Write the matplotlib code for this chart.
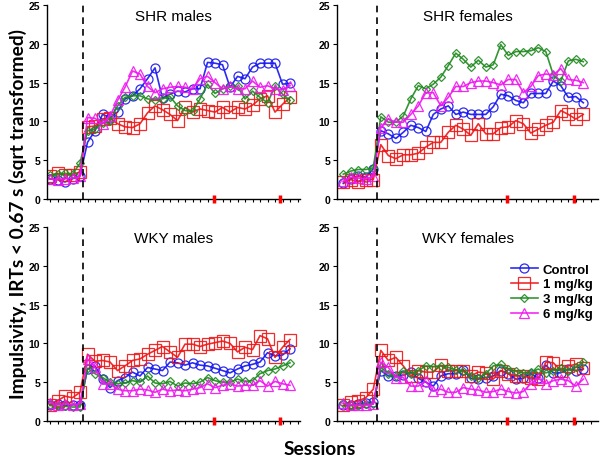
import numpy as np
import matplotlib
matplotlib.use("Agg")
import matplotlib.pyplot as plt

# sessions 1-5 baseline, 6-33 drug
sessions = np.arange(1, 34)
drug_start = 5.45
red_marks = [22.8, 31.7]

groups = ["Control", "1 mg/kg", "3 mg/kg", "6 mg/kg"]
colors = ["#1515f0", "#f01515", "#1e8a1e", "#f015f0"]
markers = ["o", "s", "D", "^"]
msizes = [6.5, 8, 4.5, 6.5]

# SHR males
shr_m_ctrl = [2.6, 2.5, 2.2, 2.6, 3.0,
              7.3, 8.8, 10.9, 10.5, 11.2, 12.9, 13.3, 14.2, 15.5, 16.9, 13.0, 13.5, 13.9, 13.8,
              14.2, 14.2, 17.6, 17.5, 17.3, 14.4, 15.8, 15.5, 17.0, 17.5, 17.5, 17.5, 14.8, 14.9]
shr_m_1 = [3.0, 3.3, 3.1, 3.1, 3.5,
           9.3, 9.4, 10.3, 10.4, 9.7, 9.3, 9.2, 9.7, 11.1, 12.0, 11.5, 10.9, 10.1, 11.8,
           11.2, 11.6, 11.4, 11.2, 11.8, 11.2, 11.8, 11.6, 12.1, 12.9, 13.3, 11.2, 12.2, 13.1]
shr_m_3 = [3.1, 3.2, 3.3, 3.2, 4.6,
           8.8, 9.0, 9.8, 10.0, 12.0, 13.1, 13.3, 13.3, 12.9, 12.8, 12.9, 13.2, 12.0, 11.4,
           11.3, 12.9, 14.8, 13.6, 14.2, 14.5, 14.5, 12.9, 13.9, 13.1, 12.4, 14.5, 13.5, 12.7]
shr_m_6 = [2.6, 2.5, 2.6, 2.7, 2.9,
           10.5, 10.4, 9.7, 10.7, 12.7, 14.4, 16.5, 16.1, 14.5, 13.7, 14.2, 14.4, 14.5, 14.4,
           14.2, 15.5, 15.8, 15.0, 14.2, 14.5, 14.2, 14.2, 15.2, 14.4, 14.6, 14.2, 14.1, 14.6]

# SHR females
shr_f_ctrl = [2.0, 2.6, 3.0, 2.8, 3.9,
              8.8, 8.4, 7.8, 8.6, 9.5, 9.2, 8.7, 10.9, 11.6, 12.0, 10.9, 11.2, 10.9, 10.9,
              10.9, 11.9, 13.5, 13.3, 12.7, 12.4, 13.6, 13.6, 13.6, 15.2, 14.6, 13.1, 13.2, 12.4]
shr_f_1 = [2.2, 2.5, 2.2, 2.5, 2.5,
           7.0, 5.6, 5.2, 5.7, 5.7, 5.9, 6.7, 7.3, 7.3, 8.6, 9.5, 9.0, 8.2, 9.7,
           8.4, 8.4, 9.2, 9.3, 10.1, 9.7, 8.5, 9.0, 9.5, 9.9, 11.4, 10.9, 10.3, 10.9]
shr_f_3 = [3.2, 3.6, 3.8, 3.8, 4.0,
           10.6, 9.9, 9.9, 10.7, 12.9, 14.6, 14.2, 14.8, 15.7, 17.2, 18.8, 18.0, 17.0, 17.9,
           17.0, 17.3, 19.9, 18.5, 19.0, 19.0, 19.1, 19.5, 19.0, 16.0, 15.2, 17.8, 18.0, 17.7]
shr_f_6 = [2.3, 2.8, 2.7, 2.6, 2.9,
           9.2, 10.3, 9.9, 9.9, 10.9, 12.0, 13.7, 13.7, 12.0, 13.1, 14.5, 14.5, 15.0, 15.2,
           15.2, 15.0, 14.7, 15.4, 15.4, 13.7, 14.5, 15.9, 16.1, 16.0, 16.8, 15.4, 15.3, 15.0]

# WKY males
wky_m_ctrl = [2.1, 2.2, 2.0, 2.1, 2.1,
              6.7, 7.1, 5.4, 4.3, 5.2, 5.6, 6.3, 5.8, 6.9, 6.7, 6.5, 7.6, 7.5, 7.2,
              7.5, 7.2, 7.1, 6.8, 6.5, 6.2, 6.7, 7.1, 7.3, 7.6, 8.8, 8.4, 8.5, 9.3]
wky_m_1 = [2.1, 2.6, 3.2, 3.0, 3.7,
           8.6, 7.7, 7.8, 7.6, 6.5, 7.1, 7.8, 8.0, 8.6, 9.1, 9.6, 8.9, 8.2, 9.9,
           9.9, 9.6, 9.9, 10.1, 10.3, 10.0, 8.9, 9.5, 9.2, 11.0, 10.6, 8.2, 9.5, 10.5]
wky_m_3 = [2.0, 1.9, 1.9, 1.8, 1.8,
           6.8, 6.1, 5.6, 5.0, 4.8, 4.9, 5.2, 5.0, 5.8, 4.9, 4.8, 5.1, 4.5, 4.9,
           4.8, 5.0, 5.6, 5.2, 5.0, 5.0, 5.4, 5.1, 5.2, 6.1, 6.5, 6.7, 7.1, 7.5]
wky_m_6 = [2.3, 2.1, 2.2, 2.1, 2.2,
           8.0, 6.9, 4.8, 4.8, 4.1, 3.9, 3.9, 4.1, 4.0, 3.7, 4.1, 3.9, 4.0, 3.9,
           4.1, 4.3, 4.8, 4.3, 4.6, 4.8, 4.5, 4.6, 4.6, 5.2, 4.5, 5.1, 4.8, 4.6]

# WKY females
wky_f_ctrl = [2.0, 2.0, 2.2, 2.3, 2.4,
              6.5, 5.8, 5.8, 5.9, 6.3, 5.5, 5.0, 4.5, 5.8, 6.1, 6.1, 6.6, 5.5, 5.4,
              5.6, 5.8, 6.5, 6.1, 5.4, 5.5, 6.1, 5.5, 7.2, 6.2, 6.2, 6.7, 6.5, 6.7]
wky_f_1 = [2.0, 2.4, 2.6, 3.0, 4.1,
           9.1, 7.8, 8.2, 7.1, 5.8, 6.5, 6.3, 6.3, 7.2, 6.5, 6.5, 6.5, 5.8, 6.3,
           6.2, 5.4, 6.5, 6.1, 5.8, 5.8, 5.6, 5.4, 7.6, 7.5, 6.5, 7.1, 7.3, 6.8]
wky_f_3 = [2.3, 2.0, 2.0, 2.2, 2.2,
           6.9, 6.1, 5.8, 6.4, 6.1, 6.5, 7.1, 7.0, 7.1, 6.9, 6.6, 6.4, 5.8, 5.5,
           6.1, 7.1, 7.3, 6.7, 6.4, 6.2, 6.3, 6.7, 6.2, 6.5, 6.8, 6.5, 6.9, 7.6]
wky_f_6 = [2.3, 2.1, 2.0, 2.0, 2.2,
           7.6, 6.9, 5.6, 5.6, 4.5, 4.5, 5.1, 3.9, 4.1, 3.7, 3.7, 4.3, 4.1, 4.0,
           3.7, 3.8, 4.1, 3.8, 3.6, 3.8, 4.8, 5.5, 4.8, 5.2, 5.4, 5.2, 4.5, 5.4]

panels = [
    ("SHR males", [shr_m_ctrl, shr_m_1, shr_m_3, shr_m_6]),
    ("SHR females", [shr_f_ctrl, shr_f_1, shr_f_3, shr_f_6]),
    ("WKY males", [wky_m_ctrl, wky_m_1, wky_m_3, wky_m_6]),
    ("WKY females", [wky_f_ctrl, wky_f_1, wky_f_3, wky_f_6]),
]

W, H = 600, 460
fig = plt.figure(figsize=(6, 4.6), dpi=100)

# pixel boxes: (left, right, top, bottom)
boxes = [(47, 300, 6, 200), (337, 598, 6, 200), (47, 300, 228, 422), (337, 598, 228, 422)]
xlims = [(0.6, 34.33), (0.16, 34.96), (0.6, 34.33), (0.16, 34.96)]

tickfont = dict(family="Liberation Sans", weight="bold", size=7.5)

for i, (title, series) in enumerate(panels):
    l, r, t, b = boxes[i]
    ax = fig.add_axes([l / W, 1 - b / H, (r - l) / W, (b - t) / H])
    for vals, c, m, ms, g in zip(series, colors, markers, msizes, groups):
        ax.plot(sessions, vals, color=c, lw=1.2, marker=m, ms=ms,
                mfc="none", mec=c, mew=0.9, alpha=0.9, label=g)
    ax.axvline(drug_start, color="black", lw=1.2, ls=(0, (4, 3)))
    ax.set_xlim(*xlims[i])
    ax.set_ylim(0, 25)
    ax.set_yticks([0, 5, 10, 15, 20, 25])
    ax.set_xticks(np.arange(1, 35))
    ax.set_xticklabels([])
    for lab in ax.get_yticklabels():
        lab.set_fontfamily(tickfont["family"])
        lab.set_fontweight(tickfont["weight"])
        lab.set_fontsize(tickfont["size"])
    ax.tick_params(axis="x", length=2.5, width=0.8, direction="out")
    ax.tick_params(axis="y", length=3, width=0.8, direction="out", pad=2)
    for s in ["top", "right"]:
        ax.spines[s].set_visible(False)
    ax.spines["left"].set_linewidth(1.0)
    ax.spines["bottom"].set_linewidth(1.0)
    ax.plot(red_marks, [0] * len(red_marks), ls="none", marker="|", ms=6,
            mew=2.5, color="red", clip_on=False, zorder=5)
    ax.text(0.5, 0.945, title, transform=ax.transAxes, ha="center", va="center",
            fontsize=11, family="Liberation Sans")
    if i == 3:
        ax.legend(loc="upper right", bbox_to_anchor=(1.0, 0.84), frameon=False,
                  prop=dict(family="Liberation Sans", weight="bold", size=9.5),
                  handlelength=2.0, handletextpad=0.4, labelspacing=0.2,
                  borderaxespad=0.0)

fig.text(18 / W, 1 - 214 / H, "Impulsivity, IRTs < 0.67 s (sqrt transformed)",
         rotation=90, ha="center", va="center", fontsize=13.8, weight="bold",
         family="Lato")
fig.text(320 / W, 1 - 450 / H, "Sessions", ha="center", va="center",
         fontsize=13.8, weight="bold", family="Lato")

fig.savefig("out.png", dpi=100)
